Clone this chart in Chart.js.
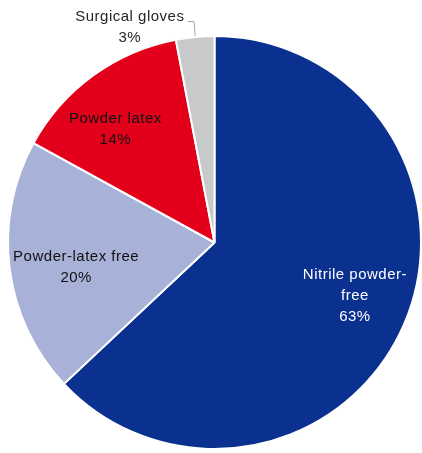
<!DOCTYPE html>
<html>
<head>
<meta charset="utf-8">
<script src="https://cdn.jsdelivr.net/npm/chart.js@4.4.1/dist/chart.umd.min.js"></script>
<style>
  html, body { margin: 0; padding: 0; background: #fff; }
  #wrap { width: 422px; height: 453px; }
</style>
</head>
<body>
<div id="wrap"><canvas id="gloves"></canvas></div>
<script>
// glove types, share in %
const categories = ["Nitrile powder-free", "Powder-latex free", "Powder latex", "Surgical gloves"];
const shares = [63, 20, 14, 3];
const sliceColors = ["#0b3190", "#a8b2d8", "#e3001b", "#c8c9cb"];

// label text lines per slice (as in the original)
const labelLines = [["Nitrile powder-", "free"], ["Powder-latex free"], ["Powder latex"], ["Surgical gloves"]];
// label centre, as fraction of radius from the pie centre
const labelPos = [[0.68, 0.26], [-0.67, 0.12], [-0.48, -0.55], [-0.41, -1.04]];
const labelColor = ["#ffffff", "#111111", "#111111", "#262626"];

const sliceLabels = {
    id: "sliceLabels",
    afterDatasetsDraw(chart) {
        const ctx = chart.ctx;
        const meta = chart.getDatasetMeta(0);
        const arc0 = meta.data[0];
        const cx = arc0.x, cy = arc0.y, r = arc0.outerRadius;
        ctx.save();
        ctx.font = "15px 'Liberation Sans', Arial, sans-serif";
        ctx.letterSpacing = "0.5px";
        ctx.textAlign = "center";
        ctx.textBaseline = "middle";
        const lh = 21;
        shares.forEach((v, i) => {
            const lines = labelLines[i].concat([v + "%"]);
            const x = cx + labelPos[i][0] * r;
            const y = cy + labelPos[i][1] * r;
            const top = y - (lines.length - 1) * lh / 2;
            ctx.fillStyle = labelColor[i];
            lines.forEach((t, k) => ctx.fillText(t, x, top + k * lh));
        });
        // leader line for the small slice
        const a = meta.data[3];
        const mid = (a.startAngle + a.endAngle) / 2;
        const ex = cx + Math.cos(mid) * r, ey = cy + Math.sin(mid) * r;
        ctx.strokeStyle = "#a6a6a6";
        ctx.lineWidth = 1;
        ctx.beginPath();
        ctx.moveTo(ex, ey - 1);
        ctx.lineTo(ex - 1, cy - 1.07 * r);
        ctx.lineTo(cx + labelPos[3][0] * r + 58, cy - 1.07 * r);
        ctx.stroke();
        ctx.restore();
    }
};

new Chart(document.getElementById("gloves"), {
    type: "pie",
    data: {
        labels: categories,
        datasets: [{
            data: shares,
            backgroundColor: sliceColors,
            borderColor: "#ffffff",
            borderWidth: 2
        }]
    },
    options: {
        responsive: true,
        maintainAspectRatio: false,
        animation: false,
        layout: { padding: { left: 7, right: 0, top: 35, bottom: 3 } },
        plugins: {
            legend: { display: false },
            tooltip: { enabled: false }
        }
    },
    plugins: [sliceLabels]
});
</script>
</body>
</html>
